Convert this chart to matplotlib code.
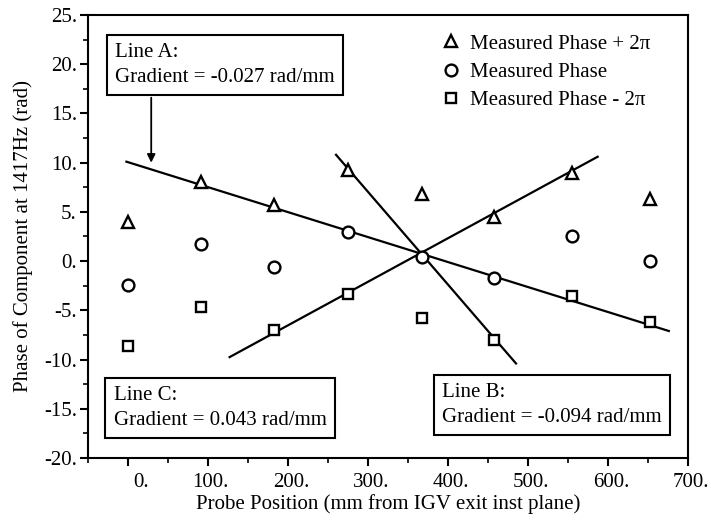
import numpy as np
import matplotlib
matplotlib.use("Agg")
import matplotlib.pyplot as plt
import matplotlib.transforms as mtransforms
from matplotlib.lines import Line2D
from matplotlib.ticker import MultipleLocator, FuncFormatter

# probe positions (mm) and phases (rad)
pos = [0, 91, 183, 275, 367, 458, 555, 652]
phase_plus = [4.0, 8.0, 5.7, 9.25, 6.8, 4.5, 9.0, 6.3]
phase = [-2.4, 1.7, -0.6, 3.0, 0.4, -1.7, 2.6, 0.0]
phase_minus = [-8.6, -4.7, -7.0, -3.3, -5.8, -8.0, -3.5, -6.2]

# fitted lines (end points)
line_a_x = [-2, 676]
line_a_y = [10.1, -7.1]
line_b_x = [260, 485]
line_b_y = [10.8, -10.4]
line_c_x = [127, 587]
line_c_y = [-9.75, 10.6]

plt.rcParams['font.family'] = ['Liberation Serif', 'DejaVu Serif']
fs = 15

fig = plt.figure(figsize=(7.11, 5.20), dpi=100)
ax = fig.add_axes([0.1238, 0.1192, 0.8439, 0.852])

mk = dict(ls='none', mfc='white', mec='black', mew=1.7, color='black', zorder=3)
ax.plot(pos, phase_plus, marker='^', ms=8, **mk)
ax.plot(pos, phase, marker='o', ms=8.5, **mk)
ax.plot(pos, phase_minus, marker='s', ms=6.5, **mk)

for lx, ly in [(line_a_x, line_a_y), (line_b_x, line_b_y), (line_c_x, line_c_y)]:
    ax.plot(lx, ly, color='black', lw=1.6, zorder=2)

ax.set_xlim(-50, 700)
ax.set_ylim(-20, 25)
ax.xaxis.set_major_locator(MultipleLocator(100))
ax.xaxis.set_minor_locator(MultipleLocator(50))
ax.yaxis.set_major_locator(MultipleLocator(5))
ax.yaxis.set_minor_locator(MultipleLocator(2.5))
ax.xaxis.set_major_formatter(FuncFormatter(lambda v, p: "%d." % v if v >= 0 else ""))
ax.yaxis.set_major_formatter(FuncFormatter(lambda v, p: "%d." % v))
ax.tick_params(which='major', direction='out', length=6, width=1.5, labelsize=fs)
ax.tick_params(which='minor', direction='out', length=3.5, width=1.2)
ax.tick_params(axis='x', which='major', pad=5)
ax.tick_params(axis='y', which='major', pad=2)
for s in ax.spines.values():
    s.set_linewidth(1.5)

# tick labels sit with their decimal point a little right of the tick
shift = mtransforms.ScaledTranslation(21 / 100, 0, fig.dpi_scale_trans)
for lbl in ax.get_xticklabels():
    lbl.set_horizontalalignment('right')
    lbl.set_transform(lbl.get_transform() + shift)

ax.set_xlabel("Probe Position (mm from IGV exit inst plane)", fontsize=fs, labelpad=1)
ax.set_ylabel("Phase of Component at 1417Hz (rad)", fontsize=fs, labelpad=8)

handles = [Line2D([], [], marker='^', ms=8, **mk),
           Line2D([], [], marker='o', ms=8.5, **mk),
           Line2D([], [], marker='s', ms=6.5, **mk)]
labels = ["Measured Phase + 2\u03c0", "Measured Phase", "Measured Phase - 2\u03c0"]
ax.legend(handles, labels, loc='upper left', bbox_to_anchor=(0.578, 0.976), frameon=False,
          fontsize=fs, handlelength=0.8, handletextpad=0.5, labelspacing=0.42, borderaxespad=0)

box = dict(boxstyle='square,pad=0.4', fc='white', ec='black', lw=1.5)
ax.text(0.045, 0.887, "Line A:\nGradient = -0.027 rad/mm", transform=ax.transAxes,
        fontsize=fs, va='center', ha='left', bbox=box, linespacing=1.4, zorder=5)
ax.text(0.043, 0.113, "Line C:\nGradient = 0.043 rad/mm", transform=ax.transAxes,
        fontsize=fs, va='center', ha='left', bbox=box, linespacing=1.4, zorder=5)
ax.text(0.59, 0.120, "Line B:\nGradient = -0.094 rad/mm", transform=ax.transAxes,
        fontsize=fs, va='center', ha='left', bbox=box, linespacing=1.4, zorder=5)

ax.annotate("", xy=(29, 10.0), xytext=(29, 16.6),
            arrowprops=dict(arrowstyle='-|>', color='black', lw=1.3, mutation_scale=12,
                            shrinkA=0, shrinkB=0))

fig.savefig("out.png", dpi=100)
